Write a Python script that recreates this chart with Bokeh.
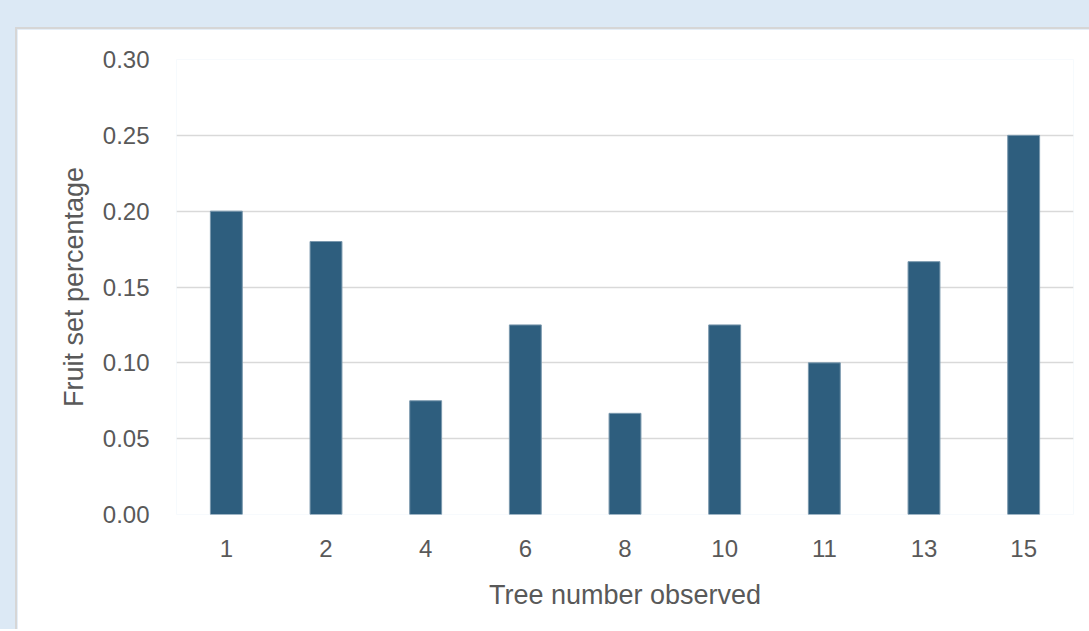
from bokeh.plotting import figure
from bokeh.models import Range1d, FixedTicker, NumeralTickFormatter, ColumnDataSource, Column
from bokeh.embed import file_html
from bokeh.resources import INLINE

trees = ["1", "2", "4", "6", "8", "10", "11", "13", "15"]
fruit_set = [0.20, 0.18, 0.075, 0.125, 0.0667, 0.125, 0.10, 0.1667, 0.25]
y_ticks = [0.0, 0.05, 0.10, 0.15, 0.20, 0.25, 0.30]

FONT = "Liberation Sans"
GRAY = "#595959"

src = ColumnDataSource(dict(x=trees, y=fruit_set))

p = figure(x_range=trees, y_range=Range1d(0, 0.30),
           width=1072, height=600, output_backend="svg", toolbar_location=None,
           frame_width=895, frame_height=453,
           min_border_left=159, min_border_top=30, min_border_right=18, min_border_bottom=117)
p.margin = (27, 0, 0, 15)
p.styles = {"border-left": "2px solid #d6d6d6", "border-top": "2px solid #d6d6d6"}
p.border_fill_color = "white"
p.background_fill_color = "white"
p.outline_line_color = None

p.vbar(x="x", top="y", width=0.32, source=src, fill_color="#2E5E7E",
       line_color="#7a98ae", line_width=1)

p.yaxis.ticker = FixedTicker(ticks=y_ticks)
p.yaxis.formatter = NumeralTickFormatter(format="0.00")
p.ygrid.ticker = FixedTicker(ticks=y_ticks)
p.ygrid.grid_line_color = "#d9d9d9"
p.ygrid.grid_line_width = 1.5
p.xgrid.grid_line_color = None

for ax in (p.xaxis[0], p.yaxis[0]):
    ax.axis_line_color = None
    ax.major_tick_line_color = None
    ax.minor_tick_line_color = None
    ax.major_tick_out = 0
    ax.major_label_text_font = FONT
    ax.major_label_text_font_size = "24px"
    ax.major_label_text_color = GRAY
    ax.axis_label_text_font = FONT
    ax.axis_label_text_font_size = "27px"
    ax.axis_label_text_color = GRAY
    ax.axis_label_text_font_style = "normal"

p.xaxis.axis_label = "Tree number observed"
p.yaxis.axis_label = "Fruit set percentage"
p.yaxis.major_label_standoff = 27
p.yaxis.axis_label_standoff = 11
p.xaxis.major_label_standoff = 25
p.xaxis.axis_label_standoff = 20

layout = Column(children=[p], styles={"background-color": "#dce9f5"})

open("out.html", "w").write(file_html(layout, INLINE))
